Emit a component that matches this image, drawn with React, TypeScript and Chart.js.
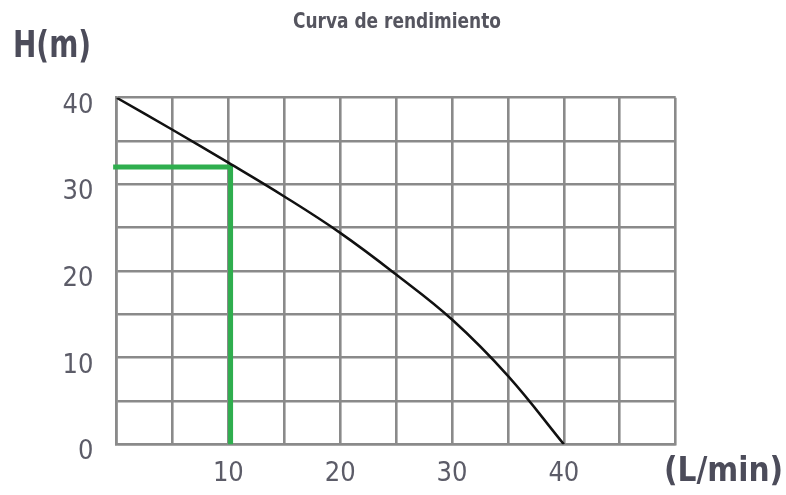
import React, { useEffect, useRef } from "react";
import { Chart, registerables } from "chart.js";

Chart.register(...registerables);

const curveFlow = [0, 5, 10, 15, 20, 25, 30, 35, 40];
const curveHead = [40, 36.3, 32.5, 28.6, 24.4, 19.6, 14.4, 7.9, 0];
const markFlow = [-0.3, 10.2, 10.2];
const markHead = [32.0, 32.0, 0];
const xTickLabels = [10, 20, 30, 40];
const yTickLabels = [0, 10, 20, 30, 40];
const titleText = "Curva de rendimiento";
const yTitle = "H(m)";
const xTitle = "(L/min)";

const FONT = '"DejaVu Sans Condensed", "DejaVu Sans", sans-serif';

function fitText(ctx: any, text: string, x: number, baseline: number, width: number, size: number, color: string) {
  ctx.save();
  ctx.font = `bold ${size}px ${FONT}`;
  ctx.fillStyle = color;
  ctx.textAlign = "left";
  ctx.textBaseline = "alphabetic";
  const m = ctx.measureText(text).width;
  const sx = Math.min(1, width / m);
  ctx.translate(x, baseline);
  ctx.scale(sx, 1);
  ctx.fillText(text, 0, 0);
  ctx.restore();
}

const textPlugin = {
  id: "texts",
  afterDraw(chart: any) {
    const ctx = chart.ctx;
    fitText(ctx, titleText, 293, 28.3, 208, 20.5, "#55555f");
    fitText(ctx, yTitle, 13, 56.7, 78, 38, "#4c4c5a");
    fitText(ctx, xTitle, 664, 481, 121, 33, "#4c4c5a");
  },
};

export default function App() {
  const ref = useRef<HTMLCanvasElement | null>(null);
  useEffect(() => {
    if (!ref.current) return;
    const gridColor = "#8a8a8a";
    const chart = new Chart(ref.current, {
      type: "line",
      data: {
        datasets: [
          {
            data: curveFlow.map((x, i) => ({ x, y: curveHead[i] })),
            borderColor: "#111111",
            borderWidth: 2.5,
            pointRadius: 0,
            tension: 0.4,
            fill: false,
          },
          {
            data: markFlow.map((x, i) => ({ x, y: markHead[i] })),
            borderColor: "#2fae4e",
            borderWidth: 5,
            pointRadius: 0,
            tension: 0,
            borderJoinStyle: "miter",
            borderCapStyle: "butt",
            clip: false,
            fill: false,
          },
        ],
      },
      options: {
        animation: false,
        responsive: true,
        maintainAspectRatio: false,
        layout: { padding: { top: 97.7, right: 110.3, left: 0, bottom: 0 } },
        plugins: { legend: { display: false }, tooltip: { enabled: false }, title: { display: false } },
        scales: {
          x: {
            type: "linear",
            min: 0,
            max: 50,
            afterFit: (s: any) => {
              s.height = 50.7;
            },
            grid: { color: gridColor, lineWidth: 2.6, drawTicks: false },
            border: { display: true, color: gridColor, width: 2.6 },
            ticks: {
              stepSize: 5,
              padding: 13,
              color: "#5c5c68",
              font: { family: FONT, size: 27 },
              maxRotation: 0,
              autoSkip: false,
              callback: (v: any) => (xTickLabels.includes(Number(v)) ? String(v) : ""),
            },
          },
          y: {
            type: "linear",
            min: 0,
            max: 40,
            afterFit: (s: any) => {
              s.width = 116.5;
            },
            grid: { color: gridColor, lineWidth: 2.6, drawTicks: false },
            border: { display: true, color: gridColor, width: 2.6 },
            ticks: {
              stepSize: 5,
              padding: 23,
              labelOffset: 8,
              color: "#5c5c68",
              font: { family: FONT, size: 27 },
              autoSkip: false,
              callback: (v: any) => (yTickLabels.includes(Number(v)) ? String(v) : ""),
            },
          },
        },
      },
      plugins: [textPlugin],
    } as any);
    return () => chart.destroy();
  }, []);
  return (
    <div style={{ position: "fixed", left: 0, top: 0, width: 786, height: 495, background: "#fff" }}>
      <canvas ref={ref} />
    </div>
  );
}
